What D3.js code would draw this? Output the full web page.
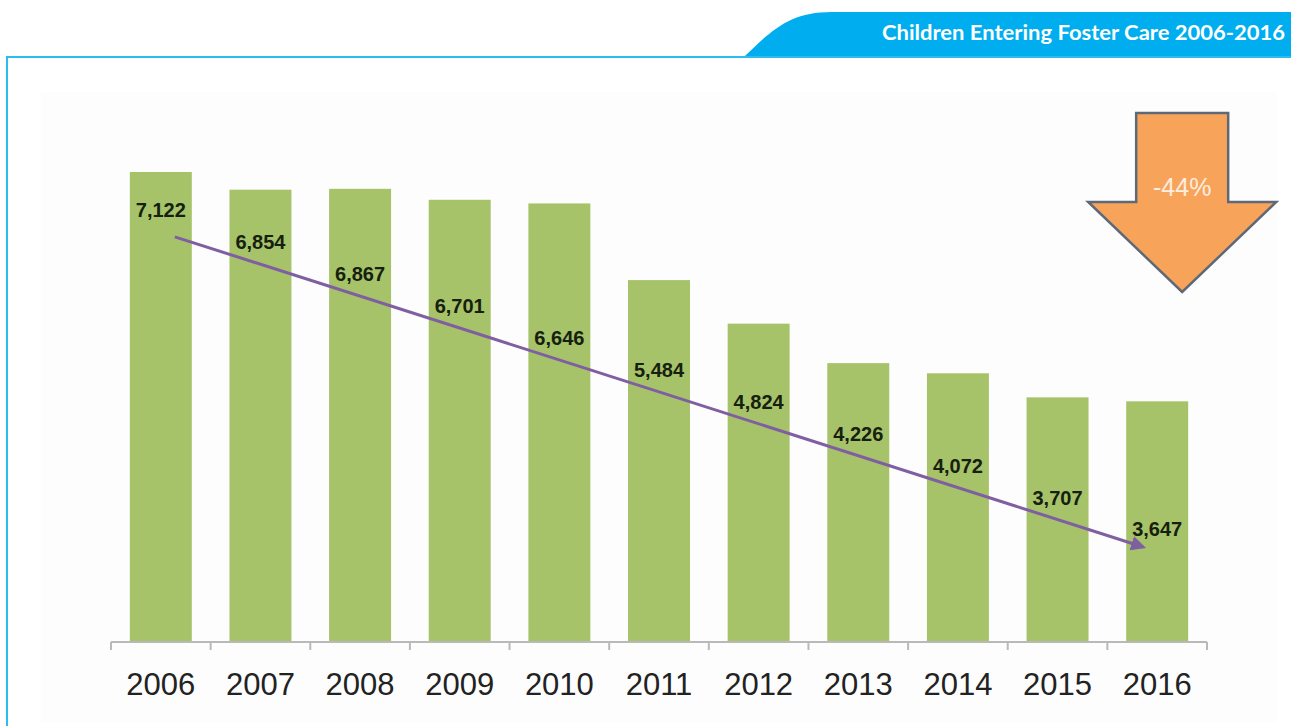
<!DOCTYPE html>
<html>
<head>
<meta charset="utf-8">
<script src="https://cdn.jsdelivr.net/npm/d3@7"></script>
<style>
  body { margin: 0; background: #fff; }
  svg { display: block; }
</style>
</head>
<body>
<div id="chart"></div>
<script>
// Data
const years = ["2006", "2007", "2008", "2009", "2010", "2011", "2012", "2013", "2014", "2015", "2016"];
const entries = [7122, 6854, 6867, 6701, 6646, 5484, 4824, 4226, 4072, 3707, 3647];
// trend arrow endpoints (in value units)
const trendValues = [6140, 1440];
const changeLabel = "-44%";
const title = "Children Entering Foster Care 2006-2016";

const width = 1291, height = 726;
const baseY = 642;

const svg = d3
  .select("#chart")
  .append("svg")
  .attr("width", width)
  .attr("height", height);

// Header tab
svg
  .append("path")
  .attr("d", "M745,56 C772,30 790,12 832,12 L1291,12 L1291,56 Z")
  .attr("fill", "#00aeef");

svg
  .append("text")
  .attr("x", 1285)
  .attr("y", 40)
  .attr("text-anchor", "end")
  .attr("textLength", 403)
  .attr("lengthAdjust", "spacingAndGlyphs")
  .style("font-family", "Lato, 'Noto Sans', sans-serif")
  .style("font-weight", 700)
  .style("font-size", "21px")
  .attr("fill", "#fff")
  .text(title);

// Frame lines
svg
  .append("path")
  .attr("d", "M7,726 L7,57 L1291,57")
  .attr("fill", "none")
  .attr("stroke", "#2bbcf0")
  .attr("stroke-width", 2);

// Plot background
svg
  .append("rect")
  .attr("x", 41)
  .attr("y", 92)
  .attr("width", 1236)
  .attr("height", 630)
  .attr("fill", "#fdfdfd");

// Scales
const x = d3
  .scaleBand()
  .domain(years)
  .range([111, 1207])
  .paddingInner(0.378)
  .paddingOuter(0.189);

const y = d3
  .scaleLinear()
  .domain([0, 8000])
  .range([baseY, baseY - 8000 * (470 / 7122)]);

// Bars
svg
  .append("g")
  .selectAll("rect")
  .data(entries)
  .enter()
  .append("rect")
  .attr("x", (d, i) => x(years[i]))
  .attr("y", (d) => y(d))
  .attr("width", x.bandwidth())
  .attr("height", (d) => baseY - y(d))
  .attr("fill", "#a7c36a");

// X axis
const axis = svg
  .append("g")
  .attr("transform", `translate(0,${baseY})`)
  .call(d3.axisBottom(x).tickSize(0).tickPadding(0));
axis.select(".domain").remove();
axis
  .append("line")
  .attr("x1", x.range()[0])
  .attr("x2", x.range()[1])
  .attr("stroke", "#b9b9b9")
  .attr("stroke-width", 2);
axis
  .selectAll(".sep")
  .data(d3.range(years.length + 1))
  .enter()
  .append("line")
  .attr("x1", (i) => x.range()[0] + i * x.step())
  .attr("x2", (i) => x.range()[0] + i * x.step())
  .attr("y1", 0)
  .attr("y2", 8)
  .attr("stroke", "#b9b9b9")
  .attr("stroke-width", 2);
axis
  .selectAll(".tick text")
  .attr("y", 53)
  .attr("dy", 0)
  .style("font-family", "'Liberation Sans', Arial, sans-serif")
  .style("font-size", "31px")
  .attr("fill", "#222");

// Trend arrow
svg
  .append("defs")
  .append("marker")
  .attr("id", "head")
  .attr("viewBox", "0 0 10 10")
  .attr("refX", 8)
  .attr("refY", 5)
  .attr("markerWidth", 5)
  .attr("markerHeight", 5)
  .attr("orient", "auto")
  .append("path")
  .attr("d", "M0,0 L10,5 L0,10 Z")
  .attr("fill", "#7f5fa2");

const half = x.bandwidth() / 2;
const x0 = x(years[0]) + half + 14;
const x1 = x(years[years.length - 1]) + half - 14;
const trendY = d3.scaleLinear().domain([x0, x1]).range(trendValues.map(y));

svg
  .append("line")
  .attr("x1", x0)
  .attr("y1", y(trendValues[0]))
  .attr("x2", x1)
  .attr("y2", y(trendValues[1]))
  .attr("stroke", "#7f5fa2")
  .attr("stroke-width", 3)
  .attr("marker-end", "url(#head)");

// Value labels, riding above the trend arrow
svg
  .append("g")
  .selectAll("text")
  .data(entries)
  .enter()
  .append("text")
  .attr("x", (d, i) => x(years[i]) + half)
  .attr("y", (d, i) => trendY(x(years[i]) + half) - 15)
  .attr("text-anchor", "middle")
  .style("font-family", "'Liberation Sans', Arial, sans-serif")
  .style("font-weight", 700)
  .style("font-size", "20px")
  .attr("fill", "#16200e")
  .text(d3.format(","));

// -44% block arrow
const cx = x(years[years.length - 1]) + half + 25;
const arrow = svg.append("g").attr("transform", `translate(${cx},113)`);
arrow
  .append("path")
  .attr("d", "M-46,0 L46,0 L46,89 L94,89 L0,179 L-94,89 L-46,89 Z")
  .attr("fill", "#f7a45a")
  .attr("stroke", "#5d6878")
  .attr("stroke-width", 2.5)
  .attr("stroke-linejoin", "miter");
arrow
  .append("text")
  .attr("x", 0)
  .attr("y", 83)
  .attr("text-anchor", "middle")
  .style("font-family", "'Liberation Sans', Arial, sans-serif")
  .style("font-size", "25px")
  .attr("fill", "#fdeee0")
  .text(changeLabel);
</script>
</body>
</html>
